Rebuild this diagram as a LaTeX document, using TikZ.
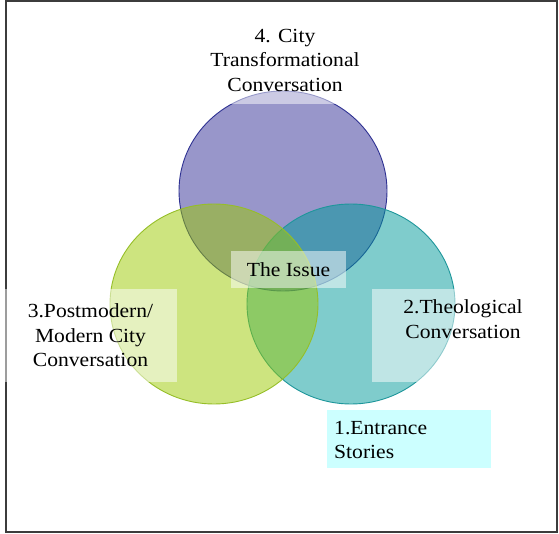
\documentclass[tikz,border=0pt]{standalone}
\usepackage{fontspec}
\setmainfont[FakeStretch=1.08]{Liberation Serif}
\usetikzlibrary{shapes.geometric}
\definecolor{purpfill}{RGB}{152,150,202}
\definecolor{purpline}{RGB}{46,49,146}
\definecolor{tealbase}{RGB}{0,153,153}
\definecolor{tealline}{RGB}{30,150,155}
\definecolor{greenbase}{RGB}{155,201,0}
\definecolor{greenline}{RGB}{150,190,40}
\definecolor{entrcyan}{RGB}{204,255,255}
\definecolor{framecol}{RGB}{60,60,60}
\tikzset{
  venn/.style={ellipse, minimum width=208pt, minimum height=200pt, inner sep=0pt, line width=0.9pt},
  lbl/.style={font=\fontsize{20}{24.5}\selectfont, align=center, text=black, inner sep=0pt},
  wbox/.style={fill=white, fill opacity=0.5, text opacity=1, inner sep=0pt},
}
\begin{document}
\begin{tikzpicture}[x=1pt,y=-1pt]
\useasboundingbox (0,0) rectangle (559,534);
\node[draw=framecol, line width=1.5pt, minimum width=551pt, minimum height=531pt, inner sep=0pt] (frame) at (281.5,266.5) {};
\node[venn, fill=purpfill, draw=purpline] (city) at (283,191) {};
\node[venn, fill=tealbase, fill opacity=0.5, draw=tealline] (theo) at (351,304) {};
\node[venn, fill=greenbase, fill opacity=0.5, draw=greenline] (post) at (214,304) {};
\node[wbox, minimum width=200pt, minimum height=94pt] (citybox) at (283,57) {};
\node[lbl] (citytext) at (285,60) {4. City\\Transformational\\Conversation};
\node[wbox, lbl, minimum width=115pt, minimum height=37pt] (issue) at (288.5,269.5) {The Issue};
\node[wbox, lbl, minimum width=173pt, minimum height=93pt] (postbox) at (90.5,335.5) {3.Postmodern/\\Modern City\\Conversation};
\node[wbox, minimum width=181pt, minimum height=93pt] (theobox) at (462.5,335.5) {};
\node[lbl] (theotext) at (463,319) {2.Theological\\Conversation};
\node[fill=entrcyan, minimum width=164pt, minimum height=58pt, inner sep=0pt] (entrbox) at (409,439) {};
\node[lbl, align=left, anchor=west] (entrtext) at (334,440) {1.Entrance\\Stories};
\end{tikzpicture}
\end{document}
